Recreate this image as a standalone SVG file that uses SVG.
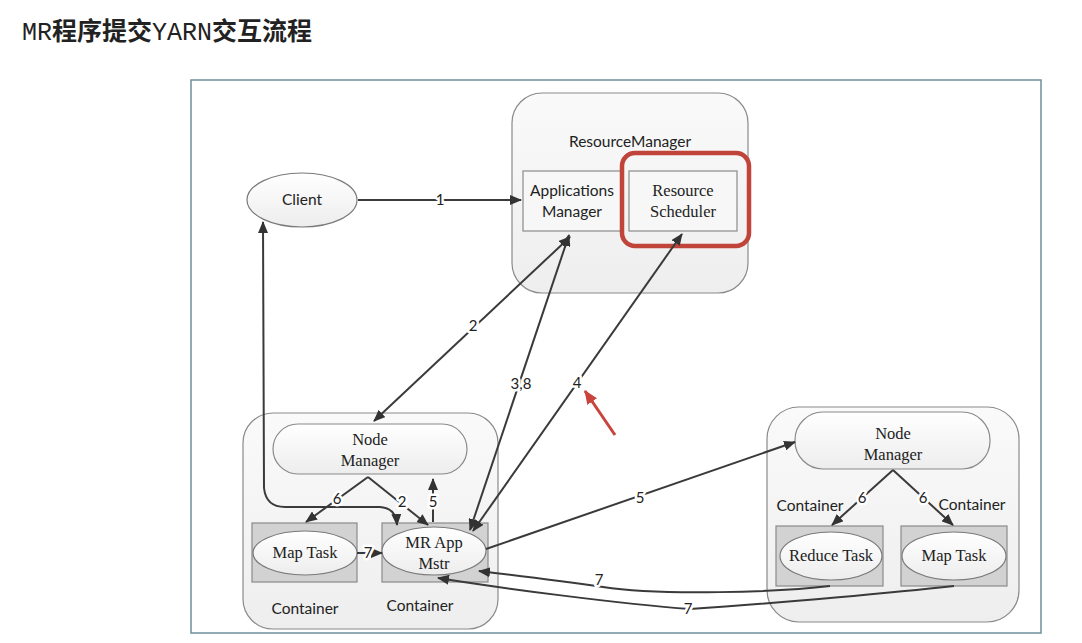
<svg xmlns="http://www.w3.org/2000/svg" width="1082" height="643" viewBox="0 0 1082 643">
<style>
.sans{font-family:Lato,"Open Sans","Liberation Sans",sans-serif;font-size:15.5px;fill:#222;text-anchor:middle}
.serif{font-family:"Liberation Serif","DejaVu Serif",serif;font-size:16.5px;fill:#222;text-anchor:middle}
.outer{fill:url(#gOuter);stroke:#8a8a8a;stroke-width:1.2}
.pill{fill:url(#gPill);stroke:#8a8a8a;stroke-width:1.2}
.cont{fill:#d2d2d2;stroke:#8a8a8a;stroke-width:1.2}
.ell{fill:url(#gPill);stroke:#7a7a7a;stroke-width:1.2}
.box{fill:#f7f7f7;stroke:#8a8a8a;stroke-width:1.2}
.conn path,.conn line{fill:none;stroke:#3a3a3a;stroke-width:2}
.lbl{font-family:Lato,"Open Sans","Liberation Sans",sans-serif;font-size:15px;fill:#222;text-anchor:middle;stroke:#fff;stroke-width:5;paint-order:stroke;stroke-linejoin:round}
</style>
<defs>
<linearGradient id="gOuter" x1="0" y1="0" x2="0" y2="1"><stop offset="0" stop-color="#fafafa"/><stop offset="1" stop-color="#eeeeee"/></linearGradient>
<linearGradient id="gPill" x1="0" y1="0" x2="0" y2="1"><stop offset="0" stop-color="#ffffff"/><stop offset="1" stop-color="#ededed"/></linearGradient>
<marker id="ah" viewBox="0 0 12 10" refX="11" refY="5" markerWidth="12" markerHeight="10" markerUnits="userSpaceOnUse" orient="auto-start-reverse"><path d="M0,0 L12,5 L0,10 z" fill="#333"/></marker>
<marker id="ahr" viewBox="0 0 12 10" refX="11" refY="5" markerWidth="14" markerHeight="12" markerUnits="userSpaceOnUse" orient="auto"><path d="M0,0 L12,5 L0,10 z" fill="#c8443c"/></marker>
</defs>
<rect width="1082" height="643" fill="#ffffff"/>
<text x="22" y="40" font-size="25" fill="#222"><tspan font-family="'Liberation Mono',monospace">MR</tspan><tspan font-family="'Noto Sans CJK SC',sans-serif" font-weight="700">程序提交</tspan><tspan font-family="'Liberation Mono',monospace">YARN</tspan><tspan font-family="'Noto Sans CJK SC',sans-serif" font-weight="700">交互流程</tspan></text>
<rect x="191" y="80" width="850" height="553" fill="#ffffff" stroke="#6f8f9c" stroke-width="1.5"/>

<g id="resourcemanager">
<rect class="outer" x="512" y="93" width="236" height="200" rx="30"/>
<text class="sans" x="630" y="147">ResourceManager</text>
</g>
<g id="applicationsmanager">
<rect class="box" x="523" y="171" width="98" height="60"/>
<text class="sans" x="572" y="196">Applications</text>
<text class="sans" x="572" y="217">Manager</text>
</g>
<g id="resourcescheduler">
<rect class="box" x="629" y="171" width="108" height="60"/>
<text class="serif" x="683" y="196">Resource</text>
<text class="serif" x="683" y="217">Scheduler</text>
<rect x="622" y="153" width="127" height="93" rx="13" fill="none" stroke="#c0443a" stroke-width="4.5"/>
</g>
<g id="client">
<ellipse class="ell" cx="302" cy="200" rx="55" ry="27"/>
<text class="sans" x="302" y="205">Client</text>
</g>

<g id="node1">
<rect class="outer" x="243" y="413" width="255" height="216" rx="30"/>
<rect class="pill" x="273" y="424" width="194" height="50" rx="25"/>
<text class="serif" x="370" y="445">Node</text>
<text class="serif" x="370" y="466">Manager</text>
<text class="sans" x="305" y="614">Container</text>
<text class="sans" x="420" y="611">Container</text>
</g>
<g id="maptask1">
<rect class="cont" x="252" y="523" width="105" height="59"/>
<ellipse class="ell" cx="305" cy="553" rx="52" ry="22"/>
<text class="serif" x="305" y="558">Map Task</text>
</g>
<g id="mrappmstr">
<rect class="cont" x="382" y="523" width="106" height="59"/>
<ellipse class="ell" cx="434" cy="551" rx="52" ry="24"/>
<text class="serif" x="434" y="548">MR App</text>
<text class="serif" x="434" y="569">Mstr</text>
</g>

<g id="node2">
<rect class="outer" x="767" y="407" width="252" height="215" rx="32"/>
<rect class="pill" x="795" y="412" width="195" height="57" rx="28"/>
<text class="serif" x="893" y="439">Node</text>
<text class="serif" x="893" y="460">Manager</text>
<text class="sans" x="810" y="511">Container</text>
<text class="sans" x="972" y="510">Container</text>
</g>
<g id="reducetask">
<rect class="cont" x="776" y="526" width="107" height="60"/>
<ellipse class="ell" cx="831" cy="556" rx="51" ry="24"/>
<text class="serif" x="831" y="561">Reduce Task</text>
</g>
<g id="maptask2">
<rect class="cont" x="901" y="526" width="106" height="60"/>
<ellipse class="ell" cx="954" cy="556" rx="52" ry="24"/>
<text class="serif" x="954" y="561">Map Task</text>
</g>

<g id="connectors" class="conn">
<line x1="358" y1="200" x2="521" y2="200" marker-end="url(#ah)"/>
<line x1="570" y1="237" x2="374" y2="421" marker-start="url(#ah)" marker-end="url(#ah)"/>
<line x1="470" y1="530" x2="569" y2="235" marker-start="url(#ah)" marker-end="url(#ah)"/>
<line x1="473" y1="531" x2="682" y2="234" marker-start="url(#ah)" marker-end="url(#ah)"/>
<path d="M263,222 L264,488 Q266,507 285,507 L380,507 Q396,508 397,525" marker-start="url(#ah)" marker-end="url(#ah)"/>
<line x1="368" y1="477" x2="306" y2="522" marker-end="url(#ah)"/>
<line x1="368" y1="477" x2="428" y2="525" marker-end="url(#ah)"/>
<line x1="433" y1="522" x2="433" y2="479" marker-end="url(#ah)"/>
<line x1="357" y1="553" x2="382" y2="553" marker-end="url(#ah)"/>
<line x1="486" y1="549" x2="795" y2="442" marker-end="url(#ah)"/>
<line x1="893" y1="470" x2="832" y2="525" marker-end="url(#ah)"/>
<line x1="893" y1="470" x2="953" y2="525" marker-end="url(#ah)"/>
<path d="M830,586 C780,592 660,596 603,587 C560,581 520,576 479,571" marker-end="url(#ah)"/>
<path d="M954,586 C900,592 780,603 690,609 C620,604 500,588 438,578" marker-end="url(#ah)"/>
<line x1="615" y1="435" x2="585" y2="391" stroke="#c8443c" style="stroke:#c8443c;stroke-width:3" marker-end="url(#ahr)"/>
<text class="lbl" x="440" y="205">1</text>
<text class="lbl" x="473" y="331">2</text>
<text class="lbl" x="521" y="389">3,8</text>
<text class="lbl" x="577" y="388">4</text>
<text class="lbl" x="337" y="504">6</text>
<text class="lbl" x="402" y="507">2</text>
<text class="lbl" x="433" y="507">5</text>
<text class="lbl" x="368" y="558">7</text>
<text class="lbl" x="640" y="503">5</text>
<text class="lbl" x="862" y="503">6</text>
<text class="lbl" x="923" y="503">6</text>
<text class="lbl" x="599" y="585">7</text>
<text class="lbl" x="688" y="614">7</text>
</g>
</svg>
